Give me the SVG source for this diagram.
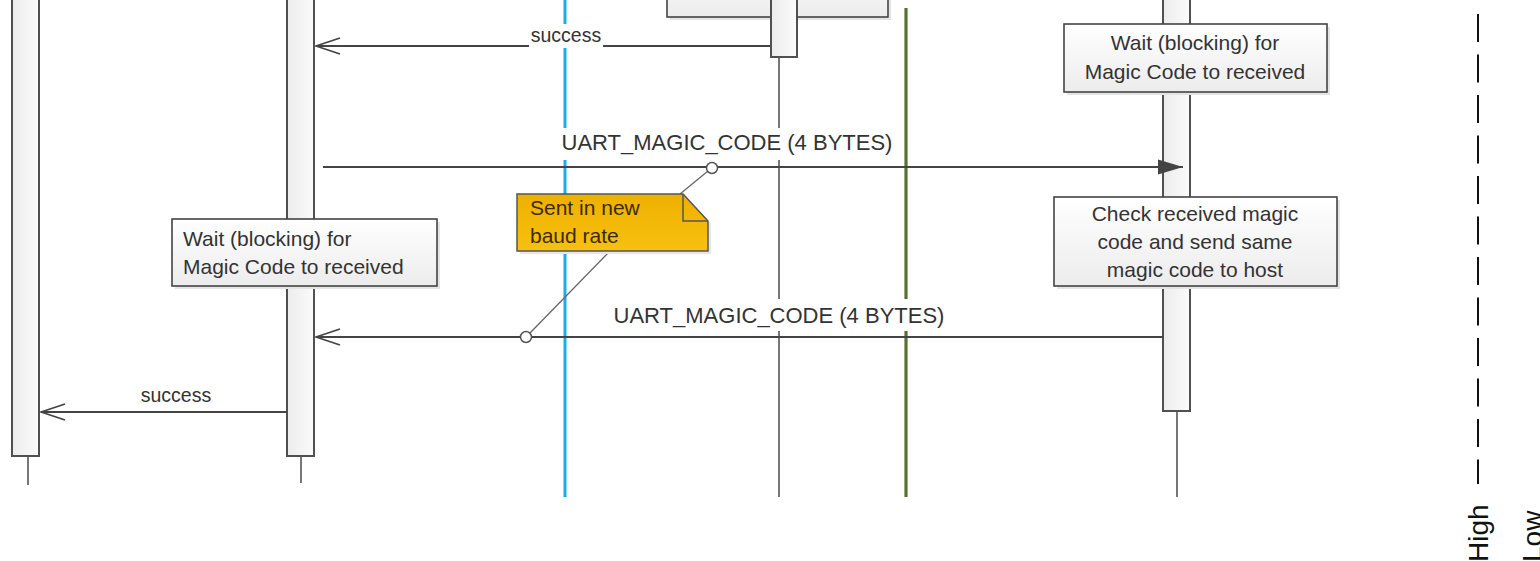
<svg xmlns="http://www.w3.org/2000/svg" width="1540" height="561" viewBox="0 0 1540 561">
<style>
text{font-family:"Liberation Sans",Arial,sans-serif;fill:#333}
.lbl{font-size:22px}
.sm{font-size:19.5px}
.bx{font-size:21px}
.life{stroke:#555;stroke-width:1.6;fill:none}
.bar{fill:url(#barg);stroke:#505050;stroke-width:2}
.box{fill:url(#boxg);stroke:#444;stroke-width:1.6}
.shd{fill:#e4e4e4}
.msg{stroke:#444;stroke-width:1.8;fill:none}
.lnk{stroke:#666;stroke-width:1.3;fill:none}
.ring{fill:#fff;stroke:#555;stroke-width:1.5}
.bg{fill:#fff}
</style>
<defs>
<linearGradient id="barg" x1="0" y1="0" x2="1" y2="0"><stop offset="0" stop-color="#ececec"/><stop offset="1" stop-color="#fbfbfb"/></linearGradient>
<linearGradient id="boxg" x1="0" y1="0" x2="0" y2="1"><stop offset="0" stop-color="#ffffff"/><stop offset="1" stop-color="#ececec"/></linearGradient>
<linearGradient id="noteg" x1="0" y1="0" x2="0" y2="1"><stop offset="0" stop-color="#EFB000"/><stop offset="1" stop-color="#F7C010"/></linearGradient>
<marker id="open" viewBox="0 0 26 18" refX="25" refY="9" markerWidth="26" markerHeight="18" markerUnits="userSpaceOnUse" orient="auto"><path d="M1,1 L25,9 L1,17" fill="none" stroke="#444" stroke-width="1.8"/></marker>
<marker id="fill" viewBox="0 0 26 16" refX="25" refY="8" markerWidth="26" markerHeight="16" markerUnits="userSpaceOnUse" orient="auto"><path d="M0,0.5 L25,8 L0,15.5 Z" fill="#444"/></marker>
</defs>

<g id="lifelines">
<line class="life" x1="28" y1="440" x2="28" y2="485"/>
<line class="life" x1="301" y1="440" x2="301" y2="483"/>
<line class="life" x1="779" y1="40" x2="779" y2="497"/>
<line class="life" x1="1177" y1="400" x2="1177" y2="497"/>
<line x1="565" y1="0" x2="565" y2="497" stroke="#1AAEE8" stroke-width="3"/>
<line x1="906" y1="8" x2="906" y2="497" stroke="#5A7030" stroke-width="3.2"/>
</g>

<g id="bar-host">
<rect class="bar" x="12" y="-10" width="27" height="466"/>
</g>
<g id="bar-tool">
<rect class="bar" x="287" y="-10" width="27" height="466"/>
</g>
<g id="top-box">
<rect class="shd" x="670" y="-40" width="221" height="60"/>
<rect class="box" x="667" y="-43" width="221" height="60"/>
</g>
<g id="bar-mid">
<rect class="bar" x="771" y="-10" width="26" height="67"/>
</g>
<g id="bar-device">
<rect class="bar" x="1163" y="-10" width="27" height="421"/>
</g>

<g id="wait-right">
<rect class="shd" x="1067" y="27" width="263" height="68"/>
<rect class="box" x="1064" y="24" width="263" height="68"/>
<text class="bx" x="1195" y="50" text-anchor="middle">Wait (blocking) for</text>
<text class="bx" x="1195" y="79" text-anchor="middle">Magic Code to received</text>
</g>

<g id="check-box">
<rect class="shd" x="1057" y="200" width="283" height="89"/>
<rect class="box" x="1054" y="197" width="283" height="89"/>
<text class="bx" x="1195" y="221" text-anchor="middle">Check received magic</text>
<text class="bx" x="1195" y="249" text-anchor="middle">code and send same</text>
<text class="bx" x="1195" y="277" text-anchor="middle">magic code to host</text>
</g>

<g id="wait-left">
<rect class="shd" x="175" y="222" width="265" height="67"/>
<rect class="box" x="172" y="219" width="265" height="67"/>
<text class="bx" x="183" y="246">Wait (blocking) for</text>
<text class="bx" x="183" y="274">Magic Code to received</text>
</g>

<g id="connectors">
<line class="msg" x1="770" y1="46" x2="316" y2="46" marker-end="url(#open)"/>
<rect class="bg" x="529" y="24" width="74" height="24"/>
<text class="sm" x="566" y="42" text-anchor="middle">success</text>

<line class="msg" x1="323" y1="167" x2="1183" y2="167" marker-end="url(#fill)"/>
<rect class="bg" x="561" y="128" width="333" height="32"/>
<text class="lbl" x="727" y="150" text-anchor="middle">UART_MAGIC_CODE (4 BYTES)</text>

<line class="msg" x1="1163" y1="337" x2="316" y2="337" marker-end="url(#open)"/>
<rect class="bg" x="611" y="299" width="336" height="32"/>
<text class="lbl" x="779" y="323" text-anchor="middle">UART_MAGIC_CODE (4 BYTES)</text>

<line class="msg" x1="287" y1="412" x2="41" y2="412" marker-end="url(#open)"/>
<text class="sm" x="176" y="402" text-anchor="middle">success</text>
</g>

<g id="note">
<line class="lnk" x1="680" y1="194" x2="708" y2="171"/>
<line class="lnk" x1="610" y1="251" x2="530" y2="333"/>
<circle class="ring" cx="712" cy="168" r="5.5"/>
<circle class="ring" cx="526" cy="337" r="5.5"/>
<path d="M520,197 L686,197 L711,224 L711,254 L520,254 Z" fill="#e6e6e6"/>
<path d="M517,194 L683,194 L708,221 L708,251 L517,251 Z" fill="url(#noteg)" stroke="#555" stroke-width="1.5"/>
<path d="M683,194 L683,221 L708,221" fill="none" stroke="#555" stroke-width="1.5"/>
<text class="bx" x="530" y="215" style="fill:#3a2c00">Sent in new</text>
<text class="bx" x="530" y="243" style="fill:#3a2c00">baud rate</text>
</g>

<g id="level">
<line x1="1478" y1="14" x2="1478" y2="484" stroke="#111" stroke-width="2" stroke-dasharray="28 12.5"/>
<text transform="translate(1488,562) rotate(-90)" font-size="28" style="fill:#111">High</text>
<text transform="translate(1542,562) rotate(-90)" font-size="28" style="fill:#111">Low</text>
</g>
</svg>
